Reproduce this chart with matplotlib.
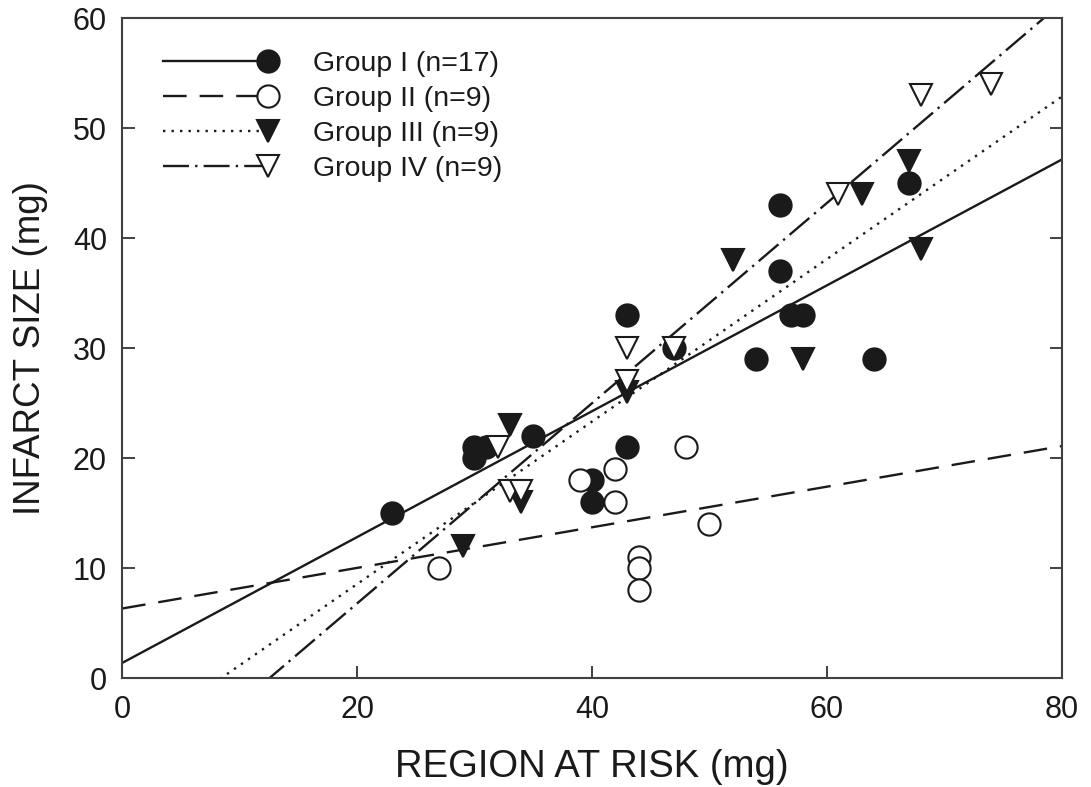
import numpy as np
import matplotlib
matplotlib.use("Agg")
from matplotlib import pyplot as plt
from matplotlib.lines import Line2D
from matplotlib.legend_handler import HandlerLine2D

plt.rcParams['font.family'] = ['Liberation Sans', 'DejaVu Sans']

# data (region at risk vs infarct size, mg)
g1_x = [23, 30, 30, 31, 35, 40, 40, 43, 43, 47, 54, 56, 56, 57, 58, 64, 67]
g1_y = [15, 20, 21, 21, 22, 18, 16, 33, 21, 30, 29, 43, 37, 33, 33, 29, 45]
g2_x = [27, 39, 42, 42, 44, 44, 44, 48, 50]
g2_y = [10, 18, 19, 16, 11, 10, 8, 21, 14]
g3_x = [29, 33, 34, 43, 52, 58, 63, 67, 68]
g3_y = [12, 23, 16, 26, 38, 29, 44, 47, 39]
g4_x = [32, 33, 34, 43, 43, 47, 61, 68, 74]
g4_y = [21, 17, 17, 30, 27, 30, 44, 53, 54]

labels = ['Group I (n=17)', 'Group II (n=9)', 'Group III (n=9)', 'Group IV (n=9)']
xticks = [0, 20, 40, 60, 80]
yticks = [0, 10, 20, 30, 40, 50, 60]

ink = '#1a1a1a'
groups = [
    (g1_x, g1_y, 'o', ink, '-'),
    (g2_x, g2_y, 'o', 'white', (0, (10, 5.5))),
    (g3_x, g3_y, 'v', ink, (0, (1, 2.6))),
    (g4_x, g4_y, 'v', 'white', (0, (11, 2.6, 1, 2.6))),
]


# legend entry: line with the marker sitting at its right end
class EndMarker(HandlerLine2D):
    def create_artists(self, legend, orig_handle, xdescent, ydescent,
                       width, height, fontsize, trans):
        arts = super().create_artists(legend, orig_handle, xdescent, ydescent,
                                      width, height, fontsize, trans)
        ln = arts[0]
        ln.set_markevery([len(ln.get_xdata()) - 1])
        return arts


fig = plt.figure(figsize=(10.91, 7.87), dpi=100)
ax = fig.add_axes([0.112, 0.1385, 0.861, 0.8385])

xfit = np.array([0, 80])
handles = []
for (gx, gy, mk, fc, ls), lab in zip(groups, labels):
    # least squares line for each group
    b, a = np.polyfit(gx, gy, 1)
    ax.plot(xfit, a + b * xfit, color=ink, linestyle=ls, linewidth=1.7, zorder=2)
    ax.plot(gx, gy, linestyle='none', marker=mk, markersize=16,
            markerfacecolor=fc, markeredgecolor=ink, markeredgewidth=1.5, zorder=3)
    handles.append(Line2D([], [], color=ink, linestyle=ls, linewidth=1.7, marker=mk,
                          markersize=16, markerfacecolor=fc, markeredgecolor=ink,
                          markeredgewidth=1.5, label=lab))

ax.set_xlim(0, 80)
ax.set_ylim(0, 60)
ax.set_xticks(xticks)
ax.set_yticks(yticks)
ax.tick_params(direction='in', length=9, width=1.3, color='#333333',
               labelsize=22, labelcolor=ink, right=True, top=False)
ax.tick_params(axis='x', pad=12)
ax.tick_params(axis='y', pad=11)
for s in ax.spines.values():
    s.set_linewidth(1.5)
    s.set_color('#404040')

ax.set_xlabel('REGION AT RISK (mg)', fontsize=27.5, color=ink)
ax.xaxis.set_label_coords(0.5, -0.108)
ax.set_ylabel('INFARCT SIZE (mg)', fontsize=26.5, color=ink, labelpad=18)

ax.legend(handles=handles, handler_map={Line2D: EndMarker()}, loc='upper left',
          bbox_to_anchor=(0.043, 0.95), frameon=False, numpoints=1,
          handlelength=3.7, handletextpad=1.6, labelspacing=0.31, borderpad=0,
          borderaxespad=0, fontsize=20.5, labelcolor=ink)

plt.savefig('out.png', dpi=100)
